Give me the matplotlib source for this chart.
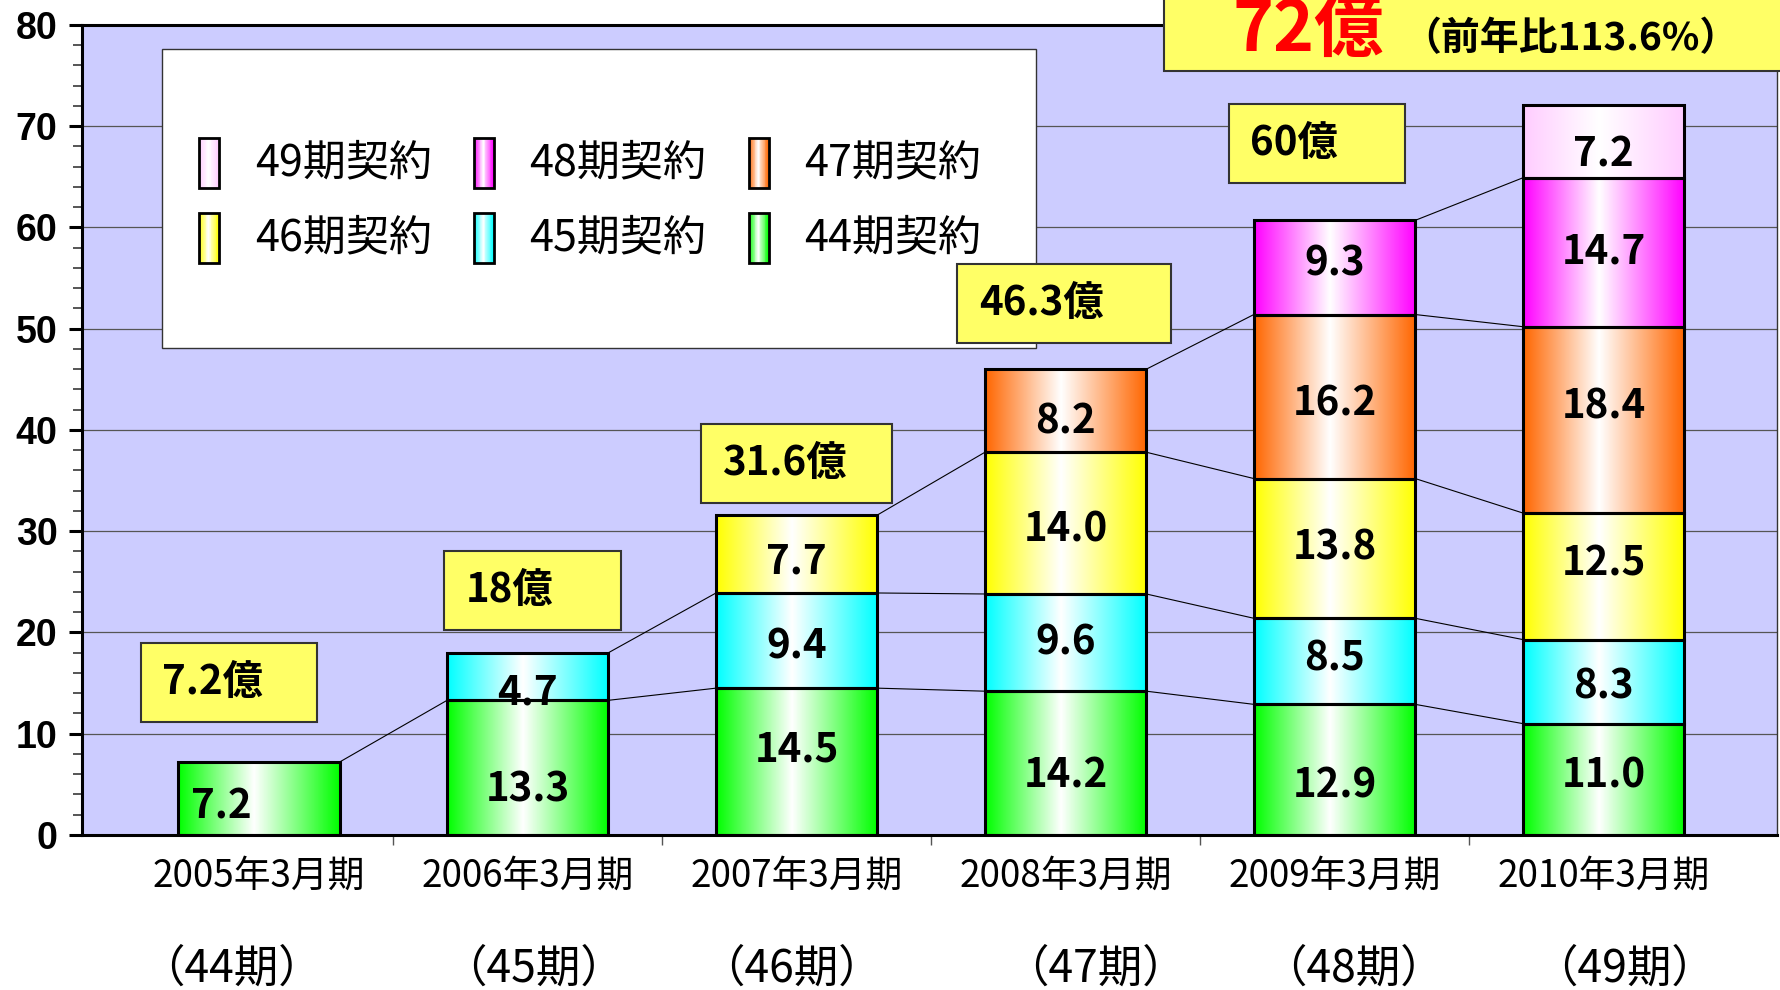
import numpy as np
import matplotlib
matplotlib.use('Agg')
import matplotlib.pyplot as plt
from matplotlib.patches import Rectangle
from matplotlib.colors import to_rgb

plt.rcParams['font.family'] = ['Noto Sans CJK JP', 'DejaVu Sans']

# data (unit: 億円)
periods = ['2005年3月期', '2006年3月期', '2007年3月期', '2008年3月期', '2009年3月期', '2010年3月期']
terms = ['（44期）', '（45期）', '（46期）', '（47期）', '（48期）', '（49期）']
series_names = ['44期契約', '45期契約', '46期契約', '47期契約', '48期契約', '49期契約']
c44 = [7.2, 13.3, 14.5, 14.2, 12.9, 11.0]
c45 = [0, 4.7, 9.4, 9.6, 8.5, 8.3]
c46 = [0, 0, 7.7, 14.0, 13.8, 12.5]
c47 = [0, 0, 0, 8.2, 16.2, 18.4]
c48 = [0, 0, 0, 0, 9.3, 14.7]
c49 = [0, 0, 0, 0, 0, 7.2]
total_labels = ['7.2億', '18億', '31.6億', '46.3億', '60億']
latest_label = '72億'
growth_label = '（前年比113.6%）'

series = [c44, c45, c46, c47, c48, c49]
colors = ['#00ff00', '#00ffff', '#ffff00', '#ff6600', '#ff00ff', '#ffccff']

# manual label nudges (layout only), in data units, same shape as series
label_dy = [
    [-0.8, -2.2, 1.1, -1.3, -1.6, 0.3],
    [0, -1.6, -0.6, 0, 0.2, -0.5],
    [0, 0, -0.8, -0.7, 0, 1.2],
    [0, 0, 0, -1.1, -0.7, 1.3],
    [0, 0, 0, 0, 0.3, 0],
    [0, 0, 0, 0, 0, -1.3],
]
# horizontal nudges of the second x label line (layout only)
term_dx = [-0.1, 0.02, -0.02, 0.11, 0.07, 0.08]
# yellow callout boxes: (left, bottom, width) in data coords
box_pos = [(-0.44, 11.2, 0.655), (0.69, 20.2, 0.655), (1.643, 32.8, 0.713),
           (2.597, 48.6, 0.794), (3.606, 64.4, 0.655)]
box_h = 7.8


def gradient(color, n=200, peak=0.47):
    t = np.linspace(0, 1, n)
    w = np.where(t < peak, t / peak, (1 - t) / (1 - peak))
    c = np.array(to_rgb(color))
    return c[None, :] * (1 - w[:, None]) + w[:, None]


fig = plt.figure(figsize=(17.81, 9.90), dpi=100)
ax = fig.add_axes([0.046, 0.1566, 0.952, 0.8182])
ax.set_facecolor('#ccccff')

x = np.arange(len(periods))
width = 0.6
bottoms = np.zeros(len(periods))
tops = []
for s, (vals, col) in enumerate(zip(series, colors)):
    vals = np.array(vals, dtype=float)
    grad = gradient(col)[None, :, :]
    for j in range(len(x)):
        if vals[j] <= 0:
            continue
        ax.imshow(grad, extent=[x[j] - width / 2, x[j] + width / 2, bottoms[j], bottoms[j] + vals[j]],
                  aspect='auto', interpolation='bilinear', zorder=2)
        dx = -0.14 if j == 0 else 0
        ax.text(x[j] + dx, bottoms[j] + vals[j] / 2 + label_dy[s][j], f'{vals[j]:.1f}',
                ha='center', va='center', fontsize=29, fontweight='bold', zorder=4)
    mask = vals > 0
    ax.bar(x[mask], vals[mask], width, bottom=bottoms[mask], fill=False,
           edgecolor='black', linewidth=2.2, zorder=3)
    bottoms = bottoms + vals
    tops.append((vals.copy(), bottoms.copy()))

# series lines between neighbouring bars
for vals, top in tops:
    for j in range(len(x) - 1):
        if vals[j] > 0 and vals[j + 1] > 0:
            ax.plot([x[j] + width / 2, x[j + 1] - width / 2], [top[j], top[j + 1]],
                    color='black', linewidth=0.8, zorder=1.8)

# legend, drawn in axes coordinates so the callout boxes can sit on top of it
ax.add_patch(Rectangle((0.0472, 0.6012), 0.5153, 0.3692, transform=ax.transAxes,
                       facecolor='white', edgecolor='#333333', linewidth=1, zorder=4.5))
order = [5, 4, 3, 2, 1, 0]
col_sw = [0.0749, 0.2370, 0.3992]
col_tx = [0.1020, 0.2636, 0.4257]
rows = [0.8296, 0.7370]
sw_w, sw_h = 0.0118, 0.0617
for k, s in enumerate(order):
    r, c = divmod(k, 3)
    cx, cy = col_sw[c], rows[r]
    strips = gradient(colors[s], n=24)
    for i, sc in enumerate(strips):
        ax.add_patch(Rectangle((cx - sw_w / 2 + i * sw_w / 24, cy - sw_h / 2), sw_w / 24 * 1.05, sw_h,
                               transform=ax.transAxes, facecolor=sc, edgecolor='none', zorder=4.6))
    ax.add_patch(Rectangle((cx - sw_w / 2, cy - sw_h / 2), sw_w, sw_h, transform=ax.transAxes,
                           fill=False, edgecolor='black', linewidth=2, zorder=4.7))
    ax.text(col_tx[c], cy, series_names[s], transform=ax.transAxes, ha='left', va='center',
            fontsize=31, zorder=4.7)

# callout boxes with totals
for (bx, by, bw), lab in zip(box_pos, total_labels):
    ax.add_patch(Rectangle((bx, by), bw, box_h, facecolor='#ffff66', edgecolor='#333333',
                           linewidth=1.5, zorder=5))
    ax.text(bx + 0.08, by + box_h / 2, lab, ha='left', va='center', fontsize=29,
            fontweight='bold', zorder=6)

ax.add_patch(Rectangle((3.366, 75.5), 2.6, 12, facecolor='#ffff66', edgecolor='#333333',
                       linewidth=1.5, zorder=5, clip_on=False))
ax.text(3.62, 77.4, latest_label, ha='left', va='baseline', fontsize=50, fontweight='bold',
        color='#ff0000', zorder=6, clip_on=False)
ax.text(4.25, 77.5, growth_label, ha='left', va='baseline', fontsize=28, fontweight='bold',
        zorder=6, clip_on=False)

# axes styling
ax.set_xlim(-0.658, 5.647)
ax.set_ylim(0, 80)
ax.set_yticks(range(0, 81, 10))
ax.set_yticks(range(0, 81, 2), minor=True)
ax.tick_params(axis='y', which='major', length=9.5, width=2.2, color='black', pad=8, labelsize=27)
ax.tick_params(axis='y', which='minor', length=6.5, width=1.4, color='#555555')
for lab in ax.get_yticklabels():
    lab.set_fontfamily('Liberation Sans')
    lab.set_fontweight('bold')
ax.set_xticks([])
ax.set_xticks([0.5, 1.5, 2.5, 3.5, 4.5], minor=True)
ax.tick_params(axis='x', which='minor', length=7, width=1, color='#555555')
ax.yaxis.grid(True, which='major', color='#555555', linewidth=0.9)
ax.set_axisbelow(True)
for side in ['left', 'bottom', 'top']:
    ax.spines[side].set_linewidth(2.2)
    ax.spines[side].set_color('black')
ax.spines['right'].set_linewidth(1)
ax.spines['right'].set_color('#333333')

xt = ax.get_xaxis_transform()
for j in x:
    ax.text(j, -0.0506, periods[j], transform=xt, ha='center', va='center', fontsize=26.5)
    ax.text(j + term_dx[j], -0.1654, terms[j], transform=xt, ha='center', va='center', fontsize=32)

fig.savefig('out.png', dpi=100, facecolor='white')
